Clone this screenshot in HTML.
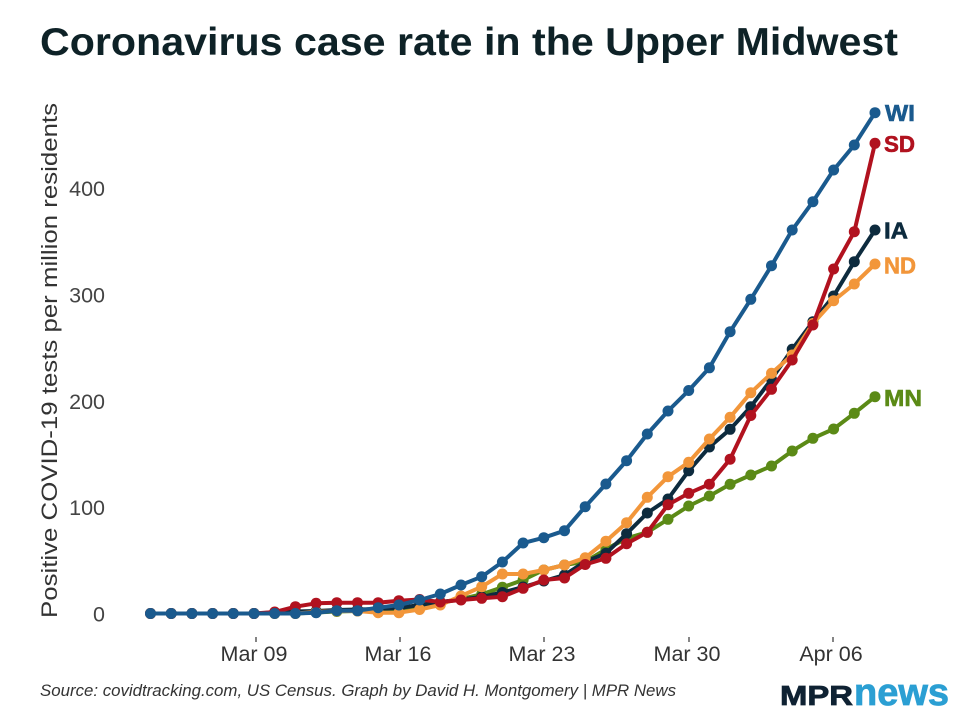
<!DOCTYPE html>
<html>
<head>
<meta charset="utf-8">
<style>
html,body{margin:0;padding:0;background:#fff;}
svg{display:block;}
text{font-family:"Liberation Sans",sans-serif;}
</style>
</head>
<body>
<svg width="960" height="720" viewBox="0 0 960 720" xmlns="http://www.w3.org/2000/svg">
<defs>
<marker id="mWI" markerUnits="userSpaceOnUse" markerWidth="14" markerHeight="14" refX="7" refY="7"><circle cx="7" cy="7" r="5.5" fill="#1a5a8e"/></marker>
<marker id="mSD" markerUnits="userSpaceOnUse" markerWidth="14" markerHeight="14" refX="7" refY="7"><circle cx="7" cy="7" r="5.5" fill="#b1121f"/></marker>
<marker id="mIA" markerUnits="userSpaceOnUse" markerWidth="14" markerHeight="14" refX="7" refY="7"><circle cx="7" cy="7" r="5.5" fill="#0d2b3e"/></marker>
<marker id="mND" markerUnits="userSpaceOnUse" markerWidth="14" markerHeight="14" refX="7" refY="7"><circle cx="7" cy="7" r="5.5" fill="#f2963a"/></marker>
<marker id="mMN" markerUnits="userSpaceOnUse" markerWidth="14" markerHeight="14" refX="7" refY="7"><circle cx="7" cy="7" r="5.5" fill="#5b8a16"/></marker>
</defs>
<rect width="960" height="720" fill="#fff"/>

<text x="40" y="55" font-size="39" font-weight="bold" fill="#0e2227" textLength="858" lengthAdjust="spacingAndGlyphs">Coronavirus case rate in the Upper Midwest</text>

<text transform="translate(57,360.5) rotate(-90)" text-anchor="middle" font-size="22" fill="#333" textLength="515" lengthAdjust="spacingAndGlyphs">Positive COVID-19 tests per million residents</text>

<g font-size="21.5" fill="#444" text-anchor="end">
<text x="105" y="621.5">0</text>
<text x="105" y="515.2">100</text>
<text x="105" y="408.9">200</text>
<text x="105" y="302.5">300</text>
<text x="105" y="196.2">400</text>
</g>

<g stroke="#333" stroke-width="1.2">
<line x1="256" y1="637" x2="256" y2="642"/>
<line x1="400" y1="637" x2="400" y2="642"/>
<line x1="544" y1="637" x2="544" y2="642"/>
<line x1="689" y1="637" x2="689" y2="642"/>
<line x1="833" y1="637" x2="833" y2="642"/>
</g>
<g font-size="21.5" fill="#333" text-anchor="middle">
<text x="254" y="661">Mar 09</text>
<text x="398" y="661">Mar 16</text>
<text x="542" y="661">Mar 23</text>
<text x="687" y="661">Mar 30</text>
<text x="831" y="661">Apr 06</text>
</g>

<g fill="none" stroke-width="4" stroke-linejoin="round" stroke-linecap="round">
<polyline stroke="#5b8a16" marker-start="url(#mMN)" marker-mid="url(#mMN)" marker-end="url(#mMN)" points="150.5,613.5 171.2,613.5 191.9,613.5 212.6,613.5 233.3,613.5 254,613.5 274.7,613.5 295.4,613.5 316.1,612.5 336.8,611.5 357.5,611 378.2,610 398.9,609 419.6,607 440.3,603 461,599 481.7,594.3 502.4,587.3 523.1,580 543.8,570 564.5,565 585.2,561.7 605.9,549.3 626.6,538.3 647.3,532.3 668,519.3 688.7,506 709.4,496 730.1,484.3 750.8,475 771.5,466 792.2,451 812.9,438.3 833.6,429 854.3,413.3 875,396.7"/>
<polyline stroke="#0d2b3e" marker-start="url(#mIA)" marker-mid="url(#mIA)" marker-end="url(#mIA)" points="150.5,613.5 171.2,613.5 191.9,613.5 212.6,613.5 233.3,613.5 254,613.5 274.7,612.5 295.4,611.5 316.1,611 336.8,610 357.5,609.5 378.2,609 398.9,608 419.6,605 440.3,602 461,599.5 481.7,597 502.4,592.5 523.1,587 543.8,581 564.5,575 585.2,561.7 605.9,553.3 626.6,533.7 647.3,513 668,499 688.7,470.8 709.4,447 730.1,429.3 750.8,406.7 771.5,379.3 792.2,349.3 812.9,321.7 833.6,296 854.3,261.7 875,230"/>
<polyline stroke="#f2963a" marker-start="url(#mND)" marker-mid="url(#mND)" marker-end="url(#mND)" points="150.5,613.5 171.2,613.5 191.9,613.5 212.6,613.5 233.3,613.5 254,613.5 274.7,613.5 295.4,613.5 316.1,612 336.8,611 357.5,611 378.2,612.7 398.9,612.7 419.6,609.5 440.3,605 461,596 481.7,586.7 502.4,574 523.1,574 543.8,570 564.5,565 585.2,557.8 605.9,541.2 626.6,522.7 647.3,497.3 668,476.7 688.7,462.3 709.4,439 730.1,417.3 750.8,392.7 771.5,373.3 792.2,355 812.9,323.5 833.6,300.7 854.3,284 875,264"/>
<polyline stroke="#b1121f" marker-start="url(#mSD)" marker-mid="url(#mSD)" marker-end="url(#mSD)" points="150.5,613.5 171.2,613.5 191.9,613.5 212.6,613.5 233.3,613.5 254,613.5 274.7,612 295.4,606.7 316.1,603.3 336.8,602.7 357.5,602.7 378.2,602.7 398.9,600.7 419.6,599.5 440.3,602 461,600 481.7,598.3 502.4,596.7 523.1,588.3 543.8,580 564.5,578 585.2,564.5 605.9,558.3 626.6,543.7 647.3,532.3 668,504.7 688.7,493.3 709.4,484.2 730.1,459.2 750.8,415.5 771.5,389.3 792.2,360 812.9,325 833.6,269 854.3,231.7 875,143.3"/>
<polyline stroke="#1a5a8e" marker-start="url(#mWI)" marker-mid="url(#mWI)" marker-end="url(#mWI)" points="150.5,613.5 171.2,613.5 191.9,613.5 212.6,613.5 233.3,613.5 254,613.5 274.7,613.5 295.4,613.5 316.1,612.7 336.8,610.7 357.5,610.7 378.2,607.7 398.9,605 419.6,600 440.3,594 461,585 481.7,576.7 502.4,562 523.1,543 543.8,537.7 564.5,530.7 585.2,506.7 605.9,484 626.6,460.7 647.3,434 668,411 688.7,390.5 709.4,367.8 730.1,331.7 750.8,299.3 771.5,265.7 792.2,230 812.9,201.7 833.6,170 854.3,145 875,112.7"/>
</g>

<g font-size="23" font-weight="bold" stroke-width="0.6">
<text x="885" y="121" fill="#1a5a8e" stroke="#1a5a8e" textLength="30" lengthAdjust="spacingAndGlyphs">WI</text>
<text x="884" y="152" fill="#b1121f" stroke="#b1121f" textLength="31" lengthAdjust="spacingAndGlyphs">SD</text>
<text x="884" y="238.5" fill="#0d2b3e" stroke="#0d2b3e" textLength="24" lengthAdjust="spacingAndGlyphs">IA</text>
<text x="884" y="273.5" fill="#f2963a" stroke="#f2963a" textLength="32" lengthAdjust="spacingAndGlyphs">ND</text>
<text x="884" y="406" fill="#5b8a16" stroke="#5b8a16" textLength="38" lengthAdjust="spacingAndGlyphs">MN</text>
</g>

<text x="40" y="696" font-size="16.5" font-style="italic" fill="#333" textLength="636" lengthAdjust="spacingAndGlyphs">Source: covidtracking.com, US Census. Graph by David H. Montgomery | MPR News</text>

<text x="780" y="705" font-size="28" font-weight="bold" fill="#0f2233" textLength="73" lengthAdjust="spacingAndGlyphs" stroke="#0f2233" stroke-width="0.8">MPR</text>
<text x="854" y="705" font-size="38" font-weight="bold" fill="#2b9fd3" textLength="95" lengthAdjust="spacingAndGlyphs" stroke="#2b9fd3" stroke-width="0.8">news</text>
</svg>
</body>
</html>
